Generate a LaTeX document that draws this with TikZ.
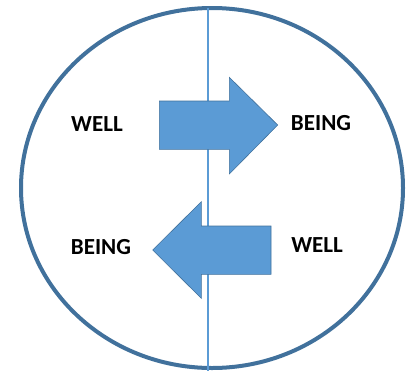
\documentclass[tikz,border=0pt]{standalone}
\usepackage{fontspec}
\setmainfont{Carlito}
\usepackage{tikz}
\usetikzlibrary{arrows,shapes,positioning}
\definecolor{rim}{HTML}{41719C}
\definecolor{arrowfill}{HTML}{5B9BD5}
\tikzset{word/.style={font=\fontsize{23}{23}\selectfont\bfseries,inner sep=0pt},
bigarrow/.style={fill=arrowfill,draw=rim,line width=.6pt,line join=miter}}
\begin{document}
\begin{tikzpicture}[x=1pt,y=-1pt]
\useasboundingbox (0,0) rectangle (411,370);
%outer ring
\draw[rim,line width=4pt] (212,188) ellipse (191 and 180);
%dividing line
\draw[arrowfill,line width=1.6pt] (207.7,8) -- (207.7,372);
%arrow going right
\draw[bigarrow] (159.3,101) -- (229.3,101) -- (229.3,77.3) -- (277.7,125) -- (229.3,174) -- (229.3,149.3) -- (159.3,149.3) -- cycle;
%arrow going left
\draw[bigarrow] (271,226) -- (201.3,226) -- (201.3,201.7) -- (152.7,250) -- (201.3,298.3) -- (201.3,274.3) -- (271,274.3) -- cycle;
%words
\node[word] (well1) at (97,124) {WELL};
\node[word] (being1) at (321,123) {BEING};
\node[word] (being2) at (101,247) {BEING};
\node[word] (well2) at (317,245) {WELL};
\end{tikzpicture}
\end{document}
